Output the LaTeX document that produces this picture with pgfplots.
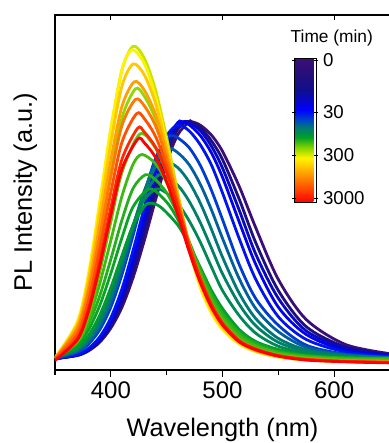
\documentclass[border=0pt]{standalone}
\usepackage{pgfplots}
\pgfplotsset{compat=1.18}
\usepackage{fontspec}
\setmainfont{Liberation Sans}
\pgfplotsset{
 colormap={timemap}{rgb255(0pt)=(255,0,0); rgb255(100pt)=(255,80,0); rgb255(200pt)=(255,160,0); rgb255(305pt)=(255,245,0); rgb255(380pt)=(130,210,0); rgb255(450pt)=(0,160,40); rgb255(520pt)=(0,120,120); rgb255(570pt)=(0,70,200); rgb255(640pt)=(0,0,255); rgb255(780pt)=(15,15,140); rgb255(900pt)=(40,15,120); rgb255(1000pt)=(60,15,120)},
 spec/.style={no marks, smooth, line width=2.1pt, color of colormap={#1}},
}
\begin{document}
\begin{tikzpicture}
\begin{axis}[
 scale only axis, width=251.25pt, height=266.25pt,
 xmin=350, xmax=650, ymin=0, ymax=1,
 xtick={400,500,600}, minor xtick={350,450,550,650},
 xtick pos=left, ytick=\empty,
 tick align=outside,
 major tick length=5pt, minor tick length=3.5pt,
 axis line style={line width=0.9pt},
 every tick/.style={black, line width=0.9pt},
 tick label style={font=\fontsize{18}{20}\selectfont},
 /pgf/number format/assume math mode=true,
 xlabel={Wavelength (nm)}, ylabel={PL Intensity (a.u.)},
 label style={font=\fontsize{19}{22}\selectfont},
 xlabel style={at={(axis description cs:0.5,-0.186)}, anchor=base},
 ylabel style={at={(axis description cs:-0.0687,0.5)}, anchor=base},
 colormap name=timemap,
 point meta min=0, point meta max=1000,
 colorbar,
 colorbar style={
   at={(171pt,234pt)}, anchor=north west,
   scale only axis, width=16.5pt, height=108pt,
   ytick={28,326,625,986}, yticklabels={3000,300,30,0},
   ytick pos=both, yticklabel pos=right,
   tick align=center, major tick length=3pt,
   every tick/.style={black, line width=0.6pt},
   axis line style={line width=0.7pt},
   tick label style={font=\fontsize{14}{16}\selectfont},
 },
]
\addplot[spec=1000] coordinates {(350,0.032)(370,0.041)(380,0.054)(390,0.078)(400,0.118)(410,0.177)(420,0.261)(430,0.365)(440,0.479)(450,0.586)(460,0.663)(470,0.699)(472,0.700)(480,0.690)(490,0.662)(500,0.616)(515,0.517)(530,0.399)(550,0.255)(575,0.142)(610,0.072)(650,0.046)};
\addplot[spec=850] coordinates {(350,0.032)(370,0.041)(380,0.055)(390,0.081)(400,0.124)(410,0.189)(420,0.279)(430,0.388)(440,0.504)(450,0.608)(460,0.678)(469,0.700)(480,0.683)(490,0.646)(500,0.593)(515,0.481)(530,0.357)(550,0.224)(575,0.122)(610,0.065)(650,0.043)};
\addplot[spec=720] coordinates {(350,0.032)(370,0.042)(380,0.057)(390,0.085)(400,0.132)(410,0.202)(420,0.298)(430,0.412)(440,0.530)(450,0.630)(460,0.690)(466,0.700)(470,0.697)(480,0.675)(490,0.631)(500,0.569)(515,0.450)(530,0.325)(550,0.202)(575,0.110)(610,0.061)(650,0.042)};
\addplot[spec=660] coordinates {(350,0.032)(370,0.043)(380,0.059)(390,0.090)(400,0.140)(410,0.216)(420,0.319)(430,0.438)(440,0.557)(450,0.650)(460,0.697)(463,0.700)(470,0.691)(480,0.661)(490,0.612)(500,0.543)(515,0.417)(530,0.296)(550,0.177)(575,0.100)(610,0.055)(650,0.041)};
\addplot[spec=620] coordinates {(350,0.032)(370,0.043)(380,0.061)(390,0.093)(400,0.147)(410,0.229)(420,0.338)(430,0.458)(440,0.575)(450,0.659)(460,0.690)(470,0.674)(480,0.635)(490,0.578)(500,0.499)(515,0.370)(530,0.254)(550,0.150)(575,0.086)(610,0.051)(650,0.038)};
\addplot[spec=580] coordinates {(350,0.033)(370,0.050)(380,0.073)(390,0.113)(400,0.177)(410,0.269)(420,0.380)(430,0.496)(440,0.596)(450,0.652)(455,0.660)(460,0.654)(470,0.627)(480,0.577)(490,0.507)(500,0.424)(515,0.297)(530,0.200)(550,0.126)(575,0.070)(610,0.045)(650,0.036)};
\addplot[spec=545] coordinates {(350,0.034)(370,0.053)(380,0.079)(390,0.122)(400,0.191)(410,0.284)(420,0.393)(430,0.501)(440,0.584)(451,0.624)(460,0.612)(470,0.579)(480,0.524)(490,0.452)(500,0.371)(515,0.257)(530,0.172)(550,0.108)(575,0.064)(610,0.043)(650,0.035)};
\addplot[spec=520] coordinates {(350,0.034)(370,0.056)(380,0.084)(390,0.131)(400,0.204)(410,0.299)(420,0.406)(430,0.505)(440,0.572)(448,0.590)(460,0.570)(470,0.530)(480,0.471)(490,0.397)(500,0.318)(515,0.216)(530,0.144)(550,0.089)(575,0.057)(610,0.041)(650,0.034)};
\addplot[spec=505] coordinates {(350,0.035)(370,0.060)(380,0.090)(390,0.141)(400,0.215)(410,0.308)(420,0.408)(430,0.493)(440,0.541)(446,0.550)(460,0.520)(470,0.476)(480,0.416)(490,0.344)(500,0.271)(515,0.185)(530,0.124)(550,0.078)(575,0.053)(610,0.039)(650,0.033)};
\addplot[spec=490] coordinates {(350,0.036)(370,0.063)(380,0.096)(390,0.150)(400,0.225)(410,0.317)(420,0.409)(430,0.480)(441,0.510)(450,0.498)(460,0.469)(470,0.421)(480,0.361)(490,0.291)(500,0.224)(515,0.153)(530,0.103)(550,0.067)(575,0.048)(610,0.037)(650,0.032)};
\addplot[spec=460] coordinates {(350,0.035)(370,0.062)(380,0.097)(390,0.154)(400,0.232)(410,0.323)(420,0.408)(430,0.461)(436,0.470)(445,0.458)(460,0.408)(470,0.353)(480,0.290)(490,0.225)(500,0.173)(515,0.114)(530,0.080)(550,0.058)(575,0.042)(610,0.034)(650,0.032)};
\addplot[spec=445] coordinates {(350,0.037)(370,0.071)(380,0.113)(390,0.181)(400,0.272)(410,0.373)(420,0.460)(435,0.510)(450,0.473)(460,0.424)(470,0.358)(480,0.287)(490,0.219)(500,0.166)(515,0.109)(530,0.077)(550,0.055)(575,0.041)(610,0.034)(650,0.032)};
\addplot[spec=430] coordinates {(350,0.038)(370,0.079)(380,0.129)(390,0.208)(400,0.312)(410,0.423)(420,0.512)(431,0.550)(440,0.536)(450,0.499)(460,0.439)(470,0.363)(480,0.283)(490,0.213)(500,0.159)(515,0.104)(530,0.073)(550,0.051)(575,0.040)(610,0.034)(650,0.032)};
\addplot[spec=415] coordinates {(350,0.035)(370,0.080)(380,0.141)(390,0.242)(400,0.365)(410,0.490)(420,0.580)(428,0.607)(440,0.581)(450,0.528)(460,0.452)(470,0.360)(480,0.273)(490,0.201)(500,0.148)(515,0.095)(530,0.068)(550,0.048)(575,0.037)(610,0.031)(650,0.029)};
\addplot[spec=400] coordinates {(350,0.031)(370,0.080)(380,0.153)(390,0.275)(400,0.417)(410,0.557)(426,0.665)(440,0.625)(450,0.556)(460,0.464)(470,0.356)(480,0.262)(490,0.189)(500,0.136)(515,0.085)(530,0.062)(550,0.044)(575,0.034)(610,0.028)(650,0.026)};
\addplot[spec=370] coordinates {(350,0.030)(370,0.104)(380,0.207)(390,0.370)(400,0.553)(410,0.711)(422,0.792)(430,0.771)(440,0.707)(450,0.603)(460,0.474)(470,0.345)(480,0.245)(490,0.170)(500,0.121)(515,0.077)(530,0.052)(550,0.037)(575,0.029)(610,0.024)(650,0.022)};
\addplot[spec=340] coordinates {(350,0.033)(370,0.126)(380,0.258)(390,0.456)(400,0.669)(410,0.845)(420,0.912)(430,0.878)(440,0.789)(450,0.654)(460,0.499)(470,0.357)(480,0.245)(490,0.169)(500,0.119)(515,0.077)(530,0.053)(550,0.038)(575,0.029)(610,0.025)(650,0.022)};
\addplot[spec=300] coordinates {(350,0.034)(370,0.136)(380,0.271)(390,0.473)(400,0.682)(410,0.847)(419,0.902)(430,0.863)(440,0.770)(450,0.638)(460,0.478)(470,0.341)(480,0.233)(490,0.161)(500,0.114)(515,0.073)(530,0.052)(550,0.037)(575,0.028)(610,0.024)(650,0.022)};
\addplot[spec=250] coordinates {(350,0.034)(370,0.129)(380,0.255)(390,0.442)(400,0.639)(410,0.800)(420,0.862)(430,0.831)(440,0.751)(450,0.628)(460,0.487)(470,0.350)(480,0.247)(490,0.170)(500,0.121)(515,0.077)(530,0.054)(550,0.039)(575,0.030)(610,0.025)(650,0.022)};
\addplot[spec=200] coordinates {(350,0.033)(370,0.121)(380,0.235)(390,0.408)(400,0.591)(410,0.743)(421,0.812)(430,0.788)(440,0.720)(450,0.613)(460,0.484)(470,0.355)(480,0.254)(490,0.177)(500,0.126)(515,0.080)(530,0.054)(550,0.039)(575,0.030)(610,0.025)(650,0.022)};
\addplot[spec=150] coordinates {(350,0.033)(370,0.113)(380,0.219)(390,0.375)(400,0.544)(410,0.689)(422,0.762)(430,0.744)(440,0.688)(450,0.596)(460,0.479)(470,0.357)(480,0.260)(490,0.182)(500,0.129)(515,0.083)(530,0.058)(550,0.040)(575,0.031)(610,0.025)(650,0.022)};
\addplot[spec=100] coordinates {(350,0.031)(370,0.100)(380,0.195)(390,0.340)(400,0.500)(410,0.642)(423,0.722)(430,0.708)(440,0.658)(450,0.575)(460,0.466)(470,0.350)(480,0.255)(490,0.179)(500,0.128)(515,0.082)(530,0.057)(550,0.040)(575,0.030)(610,0.025)(650,0.022)};
\addplot[spec=50] coordinates {(350,0.028)(370,0.089)(380,0.173)(390,0.306)(400,0.457)(410,0.594)(424,0.681)(430,0.670)(440,0.628)(450,0.556)(460,0.458)(470,0.351)(480,0.259)(490,0.186)(500,0.133)(515,0.083)(530,0.059)(550,0.041)(575,0.030)(610,0.024)(650,0.021)};
\addplot[spec=0] coordinates {(350,0.027)(370,0.085)(380,0.165)(390,0.292)(400,0.436)(410,0.567)(424,0.650)(430,0.640)(440,0.599)(450,0.530)(460,0.437)(470,0.335)(480,0.247)(490,0.178)(500,0.127)(515,0.079)(530,0.057)(550,0.039)(575,0.028)(610,0.023)(650,0.020)};
\draw[line width=0.9pt] (400,1) -- ++(0pt,-4pt);
\draw[line width=0.9pt] (500,1) -- ++(0pt,-4pt);
\draw[line width=0.9pt] (600,1) -- ++(0pt,-4pt);
\end{axis}
\node[font=\fontsize{13}{15}\selectfont] at (207.6pt,249pt) {Time (min)};
\pgfresetboundingbox
\useasboundingbox (-41.25pt,-54.75pt) rectangle (250.5pt,277.5pt);
\end{tikzpicture}
\end{document}
